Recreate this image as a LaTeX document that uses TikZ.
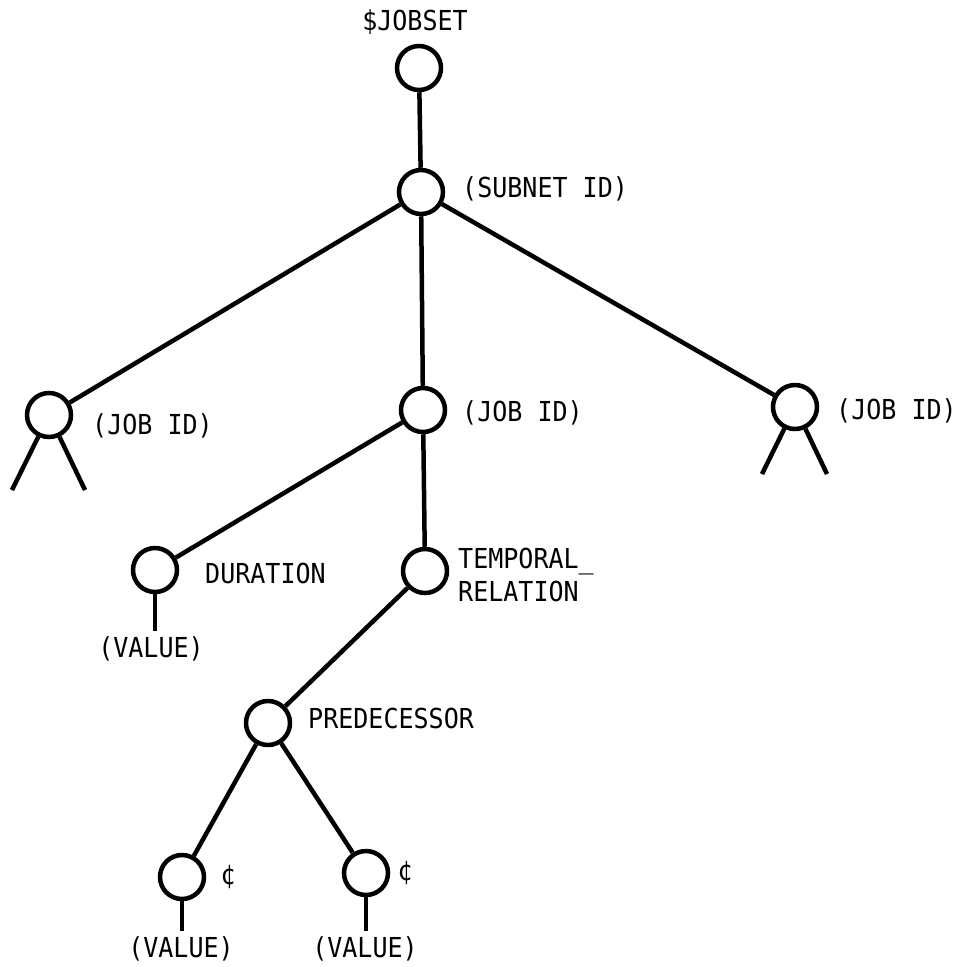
\documentclass[tikz,border=0pt]{standalone}
\usepackage{fontspec}
\newfontfamily\treefont[FakeStretch=0.91]{DejaVu Sans Mono}
\usetikzlibrary{positioning}

\begin{document}
\begin{tikzpicture}[
    x=1pt, y=-1pt,
    vertex/.style={draw, circle, line width=4.5pt, minimum size=44pt, inner sep=0pt},
    tag/.style={font=\treefont\fontsize{27.5}{33}\selectfont, inner sep=0pt, anchor=base west, align=left},
    edge/.style={line width=4.5pt}
  ]
    \useasboundingbox (0,0) rectangle (959,967);
    % tree nodes
    \node[vertex] (jobset) at (419,68) {};
    \node[vertex] (subnet) at (421,192) {};
    \node[vertex] (jobl) at (49,415) {};
    \node[vertex] (jobm) at (423,410) {};
    \node[vertex] (jobr) at (795,407) {};
    \node[vertex] (dur) at (155,570) {};
    \node[vertex] (temp) at (425,571) {};
    \node[vertex] (pred) at (268,723) {};
    \node[vertex] (vall) at (182,877) {};
    \node[vertex] (valr) at (366,873) {};
    % labels
    \node[tag, anchor=base] (jobsettxt) at (415,30) {\$JOBSET};
    \node[tag] (subnettxt) at (462,197) {(SUBNET ID)};
    \node[tag] (jobltxt) at (92,434) {(JOB ID)};
    \node[tag] (jobmtxt) at (462,421) {(JOB ID)};
    \node[tag] (jobrtxt) at (836,419) {(JOB ID)};
    \node[tag] (durtxt) at (205,583) {DURATION};
    \node[tag, anchor=west, yshift=-1pt] (temptxt) at (458,574) {TEMPORAL\_\\RELATION};
    \node[tag] (predtxt) at (308,728) {PREDECESSOR};
    \node[tag, anchor=center] (centl) at (228,877) {¢};
    \node[tag, anchor=center] (centr) at (405,873) {¢};
    \node[tag, anchor=base] (durval) at (151,657) {(VALUE)};
    \node[tag, anchor=base] (vallval) at (181,957) {(VALUE)};
    \node[tag, anchor=base] (valrval) at (365,957) {(VALUE)};
    % free ends of the legs
    \coordinate (legla) at (12,490);
    \coordinate (leglb) at (85,490);
    \coordinate (legra) at (762,474);
    \coordinate (legrb) at (827,474);
    % connectors
    \draw[edge] (jobset) -- (subnet);
    \draw[edge] (subnet) -- (jobl);
    \draw[edge] (subnet) -- (jobm);
    \draw[edge] (subnet) -- (jobr);
    \draw[edge] (jobm) -- (dur);
    \draw[edge] (jobm) -- (temp);
    \draw[edge] (temp) -- (pred);
    \draw[edge] (pred) -- (vall);
    \draw[edge] (pred) -- (valr);
    \draw[edge] (jobl) -- (legla);
    \draw[edge] (jobl) -- (leglb);
    \draw[edge] (jobr) -- (legra);
    \draw[edge] (jobr) -- (legrb);
    \draw[edge, shorten >=5pt] (dur.south) -- (dur.south |- durval.north);
    \draw[edge, shorten >=5pt] (vall.south) -- (vall.south |- vallval.north);
    \draw[edge, shorten >=5pt] (valr.south) -- (valr.south |- valrval.north);
  \end{tikzpicture}
\end{document}
